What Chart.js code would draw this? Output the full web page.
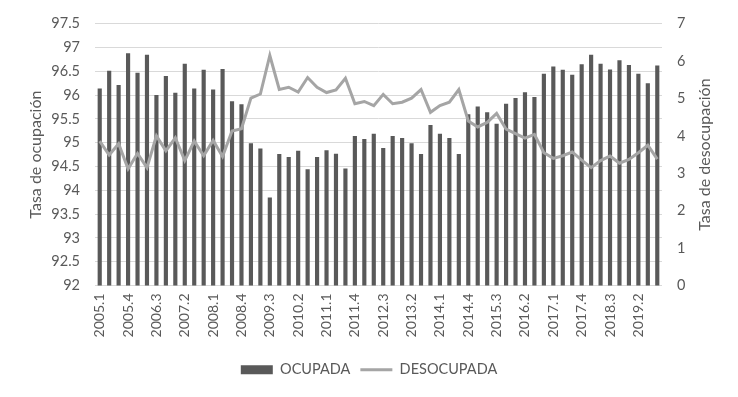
<!DOCTYPE html>
<html>
<head>
<meta charset="utf-8">
<script src="https://cdn.jsdelivr.net/npm/chart.js@4.4.1/dist/chart.umd.min.js"></script>
<style>
  html, body { margin: 0; padding: 0; background: #ffffff; }
  #wrap { width: 738px; height: 397px; }
</style>
</head>
<body>
<div id="wrap"><canvas id="c" width="738" height="397"></canvas></div>
<script>
const categories = [
  "2005.1","2005.2","2005.3","2005.4","2006.1","2006.2","2006.3","2006.4",
  "2007.1","2007.2","2007.3","2007.4","2008.1","2008.2","2008.3","2008.4",
  "2009.1","2009.2","2009.3","2009.4","2010.1","2010.2","2010.3","2010.4",
  "2011.1","2011.2","2011.3","2011.4","2012.1","2012.2","2012.3","2012.4",
  "2013.1","2013.2","2013.3","2013.4","2014.1","2014.2","2014.3","2014.4",
  "2015.1","2015.2","2015.3","2015.4","2016.1","2016.2","2016.3","2016.4",
  "2017.1","2017.2","2017.3","2017.4","2018.1","2018.2","2018.3","2018.4",
  "2019.1","2019.2","2019.3","2019.4"
];

const ocupada = [
  96.14, 96.51, 96.21, 96.88, 96.47, 96.85, 96.00, 96.40, 96.05, 96.66,
  96.14, 96.53, 96.12, 96.55, 95.87, 95.81, 94.99, 94.88, 93.85, 94.76,
  94.70, 94.83, 94.44, 94.70, 94.84, 94.77, 94.46, 95.14, 95.08, 95.19,
  94.89, 95.14, 95.10, 94.99, 94.76, 95.37, 95.19, 95.10, 94.76, 95.60,
  95.76, 95.64, 95.40, 95.82, 95.94, 96.06, 95.96, 96.45, 96.60, 96.53,
  96.43, 96.65, 96.85, 96.66, 96.54, 96.73, 96.63, 96.45, 96.25, 96.62
];

const desocupada = [
  3.86, 3.49, 3.79, 3.12, 3.53, 3.15, 4.00, 3.60, 3.95, 3.34,
  3.86, 3.47, 3.88, 3.45, 4.13, 4.19, 5.01, 5.12, 6.15, 5.24,
  5.30, 5.17, 5.56, 5.30, 5.16, 5.23, 5.54, 4.86, 4.92, 4.81,
  5.11, 4.86, 4.90, 5.01, 5.24, 4.63, 4.81, 4.90, 5.24, 4.40,
  4.24, 4.36, 4.60, 4.18, 4.06, 3.94, 4.04, 3.55, 3.40, 3.47,
  3.57, 3.35, 3.15, 3.34, 3.46, 3.27, 3.37, 3.55, 3.75, 3.38
];

const leftTicks = { min: 92, max: 97.5, step: 0.5 };
const rightTicks = { min: 0, max: 7, step: 1 };
const leftTitle = "Tasa de ocupación";
const rightTitle = "Tasa de desocupación";
const seriesNames = ["OCUPADA", "DESOCUPADA"];

const FONT = "Lato, 'Open Sans', sans-serif";
const TXT = "#595959";

const rightTitlePlugin = {
  id: 'rightTitle',
  afterDraw(chart) {
    const ctx = chart.ctx;
    const area = chart.chartArea;
    ctx.save();
    ctx.fillStyle = TXT;
    ctx.font = "16px " + FONT;
    ctx.textAlign = 'center';
    ctx.textBaseline = 'middle';
    ctx.translate(705, (area.top + area.bottom) / 2);
    ctx.rotate(-Math.PI / 2);
    ctx.fillText(rightTitle, 0, 0);
    ctx.restore();
  }
};

new Chart(document.getElementById('c'), {
  data: {
    labels: categories,
    datasets: [
      {
        type: 'line',
        label: seriesNames[1],
        data: desocupada,
        yAxisID: 'y1',
        borderColor: '#A5A5A5',
        backgroundColor: '#A5A5A5',
        borderWidth: 3,
        pointRadius: 0,
        pointHoverRadius: 0,
        tension: 0,
        order: 0,
        pointStyle: 'line'
      },
      {
        type: 'bar',
        label: seriesNames[0],
        data: ocupada,
        yAxisID: 'y',
        backgroundColor: '#595959',
        borderWidth: 0,
        categoryPercentage: 1,
        barPercentage: 0.44,
        order: 1,
        pointStyle: 'rect'
      }
    ]
  },
  options: {
    responsive: false,
    animation: false,
    events: [],
    layout: { padding: { top: 20, bottom: 10, left: 0, right: 0 } },
    plugins: {
      tooltip: { enabled: false },
      legend: {
        position: 'bottom',
        reverse: true,
        labels: {
          color: TXT,
          font: { family: FONT, size: 14.5 },
          usePointStyle: true,
          pointStyleWidth: 32,
          boxHeight: 9,
          padding: 10
        }
      }
    },
    scales: {
      x: {
        type: 'category',
        offset: true,
        grid: { display: false, drawTicks: false },
        border: { display: false },
        ticks: {
          color: TXT,
          font: { family: FONT, size: 14 },
          autoSkip: false,
          maxRotation: 90,
          minRotation: 90,
          padding: 8,
          callback: function(v, i) { return i % 3 === 0 ? categories[i] : ''; }
        },
        afterFit(scale) { scale.height = 67; }
      },
      y: {
        position: 'left',
        min: leftTicks.min,
        max: leftTicks.max,
        grid: { color: '#D9D9D9', lineWidth: 1, drawTicks: false },
        border: { display: false },
        ticks: {
          stepSize: leftTicks.step,
          color: TXT,
          font: { family: FONT, size: 14.5 },
          padding: 15,
          callback: function(v) { return String(Math.round(v * 10) / 10); }
        },
        title: {
          display: true,
          text: leftTitle,
          color: TXT,
          font: { family: FONT, size: 16 },
          padding: { top: 26, bottom: 0 }
        },
        afterFit(scale) { scale.width = 95; }
      },
      y1: {
        position: 'right',
        min: rightTicks.min,
        max: rightTicks.max,
        grid: { drawOnChartArea: false, drawTicks: false },
        border: { display: false },
        ticks: {
          stepSize: rightTicks.step,
          color: TXT,
          font: { family: FONT, size: 14.5 },
          padding: 15
        },
        afterFit(scale) { scale.width = 76; }
      }
    }
  },
  plugins: [rightTitlePlugin]
});
</script>
</body>
</html>
